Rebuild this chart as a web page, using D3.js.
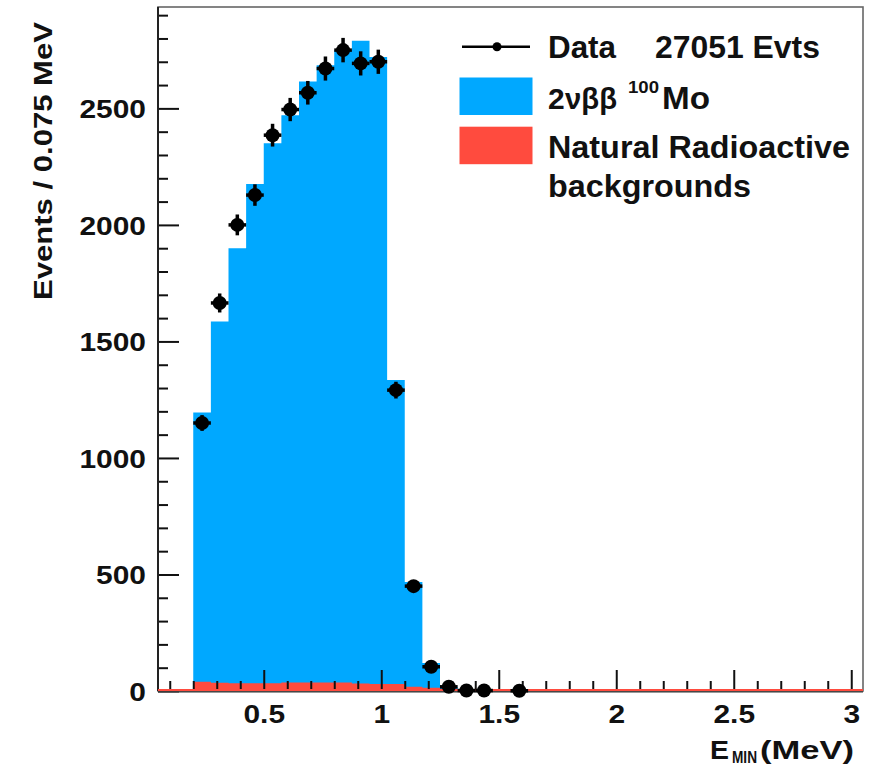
<!DOCTYPE html>
<html>
<head>
<meta charset="utf-8">
<script src="https://cdn.jsdelivr.net/npm/d3@7"></script>
<style>
body { margin: 0; background: #fff; }
text { font-family: "Liberation Sans", Arial, sans-serif; font-weight: bold; fill: #111; }
</style>
</head>
<body>
<svg id="chart"></svg>
<script>
var width = 880;
var height = 767;
var margin = {top: 7, right: 17, bottom: 76, left: 158};

// binning (0.075 MeV bins), first filled bin starts at 0.2 MeV
var binWidth = 0.075;
var binStart = 0.2;

// stacked MC: natural radioactive backgrounds (bottom) and 2nubb 100Mo (top)
var bgCounts    = [40, 35, 33, 33, 33, 36, 37, 37, 37, 32, 30, 30, 18, 14, 6];
var mo2nuCounts = [1155, 1550, 1867, 2142, 2317, 2434, 2578, 2648, 2713, 2758, 2690, 1305, 450, 106, 12];

// data, one value per bin from 0.2 MeV (null = empty bin)
var dataCounts = [1150, 1665, 2000, 2128, 2385, 2495, 2567, 2671, 2750, 2693, 2700, 1291, 450, 104, 18, 2, 2, null, 1];

var xDomain = [0.05, 3.05];
var yDomain = [0, 2935];
var xTicks = [0.5, 1, 1.5, 2, 2.5, 3];
var xTickLabels = ["0.5", "1", "1.5", "2", "2.5", "3"];
var yTicks = [0, 500, 1000, 1500, 2000, 2500];
var yTickLabels = ["0", "500", "1000", "1500", "2000", "2500"];

var colMo = "#00a8ff";
var colBg = "#ff4b3e";

var svg = d3.select("#chart")
    .attr("width", width)
    .attr("height", height);

var x = d3.scaleLinear().domain(xDomain).range([margin.left, width - margin.right]);
var y = d3.scaleLinear().domain(yDomain).range([height - margin.bottom, margin.top]);

// stack the MC
var bins = bgCounts.map((b, i) => ({lo: binStart + i * binWidth, bg: b, mo: mo2nuCounts[i]}));
// closing edge so the step area ends at the last bin's high edge
bins.push({lo: binStart + bgCounts.length * binWidth, bg: 0, mo: 0});
var stack = d3.stack().keys(["bg", "mo"])(bins);
var colours = {bg: colBg, mo: colMo};

var stepArea = d3.area()
    .curve(d3.curveStepAfter)
    .x(d => x(d.data.lo))
    .y0(y(0))
    .y1(d => y(d[1]));

let mc = svg.append("g");
// blue (full stack height) first, red over it
for (let layer of stack.slice().reverse()) {
    mc.append("path")
        .datum(layer)
        .attr("fill", colours[layer.key])
        .attr("d", stepArea);
}

// minor ticks
var xMinor = d3.range(1, 31).map(d => d / 10).filter(d => xTicks.indexOf(d) < 0);
var yMinor = d3.range(0, 2901, 100).filter(d => yTicks.indexOf(d) < 0);

svg.append("g")
    .attr("transform", "translate(0," + y(0) + ")")
    .call(d3.axisBottom(x).tickValues(xMinor).tickSize(-10).tickFormat(""))
    .call(g => g.select(".domain").remove())
    .selectAll("line").attr("stroke", "#111").attr("stroke-width", 2);

svg.append("g")
    .attr("transform", "translate(" + x.range()[0] + ",0)")
    .call(d3.axisLeft(y).tickValues(yMinor).tickSize(-10).tickFormat(""))
    .call(g => g.select(".domain").remove())
    .selectAll("line").attr("stroke", "#111").attr("stroke-width", 2);

// major ticks + labels
let xAxis = svg.append("g")
    .attr("transform", "translate(0," + y(0) + ")")
    .call(d3.axisBottom(x).tickValues(xTicks).tickSize(-21).tickPadding(14)
        .tickFormat((d, i) => xTickLabels[i]));
xAxis.select(".domain").remove();
xAxis.selectAll("line").attr("stroke", "#111").attr("stroke-width", 2);
xAxis.selectAll("text")
    .attr("font-size", 26)
    .attr("font-family", null)
    .attr("transform", "scale(1.15,1)");

let yAxis = svg.append("g")
    .attr("transform", "translate(" + x.range()[0] + ",0)")
    .call(d3.axisLeft(y).tickValues(yTicks).tickSize(-21).tickPadding(10.5)
        .tickFormat((d, i) => yTickLabels[i]));
yAxis.select(".domain").remove();
yAxis.selectAll("line").attr("stroke", "#111").attr("stroke-width", 2);
yAxis.selectAll("text")
    .attr("font-size", 26)
    .attr("font-family", null)
    .attr("dy", "0.35em")
    .attr("transform", "scale(1.15,1)");

// frame
svg.append("rect")
    .attr("x", x.range()[0]).attr("y", y.range()[1])
    .attr("width", x.range()[1] - x.range()[0])
    .attr("height", y.range()[0] - y.range()[1])
    .attr("fill", "none").attr("stroke", "#666").attr("stroke-width", 1.6);
svg.append("line")
    .attr("x1", x.range()[0]).attr("x2", x.range()[0])
    .attr("y1", y.range()[1]).attr("y2", y.range()[0])
    .attr("stroke", "#222").attr("stroke-width", 2);

// background histogram outline along zero
svg.append("line")
    .attr("x1", x(xDomain[0])).attr("x2", x(xDomain[1]))
    .attr("y1", y(0) - 1).attr("y2", y(0) - 1)
    .attr("stroke", colBg).attr("stroke-width", 2);
svg.append("line")
    .attr("x1", x(xDomain[0])).attr("x2", x(xDomain[1]))
    .attr("y1", y(0) + 0.8).attr("y2", y(0) + 0.8)
    .attr("stroke", "#333").attr("stroke-width", 1.2);

// data points with errors
var points = dataCounts
    .map((n, i) => ({c: binStart + (i + 0.5) * binWidth, n: n}))
    .filter(d => d.n !== null);

let pts = svg.append("g");
pts.selectAll(".ey")
    .data(points)
    .join("line")
    .attr("x1", d => x(d.c)).attr("x2", d => x(d.c))
    .attr("y1", d => y(d.n - Math.sqrt(d.n)))
    .attr("y2", d => y(d.n + Math.sqrt(d.n)))
    .attr("stroke", "#000").attr("stroke-width", 3.5);
pts.selectAll(".ex")
    .data(points)
    .join("line")
    .attr("x1", d => x(d.c - binWidth / 2))
    .attr("x2", d => x(d.c + binWidth / 2))
    .attr("y1", d => y(d.n)).attr("y2", d => y(d.n))
    .attr("stroke", "#000").attr("stroke-width", 3.5);
pts.selectAll("circle")
    .data(points)
    .join("circle")
    .attr("cx", d => x(d.c))
    .attr("cy", d => y(d.n))
    .attr("r", 7)
    .attr("fill", "#000");

// axis titles
svg.append("text")
    .attr("transform", "translate(52,22) rotate(-90)")
    .attr("text-anchor", "end")
    .attr("font-size", 26)
    .attr("textLength", 278)
    .attr("lengthAdjust", "spacingAndGlyphs")
    .text("Events / 0.075 MeV");

let xt = svg.append("g");
xt.append("text").attr("x", 710).attr("y", 759).attr("font-size", 26)
    .attr("textLength", 19).attr("lengthAdjust", "spacingAndGlyphs").text("E");
xt.append("text").attr("x", 732).attr("y", 763).attr("font-size", 16)
    .attr("textLength", 25).attr("lengthAdjust", "spacingAndGlyphs").text("MIN");
xt.append("text").attr("x", 760).attr("y", 759).attr("font-size", 26)
    .attr("textLength", 94).attr("lengthAdjust", "spacingAndGlyphs").text("(MeV)");

// legend
let legend = svg.append("g");
legend.append("line")
    .attr("x1", 462).attr("x2", 530).attr("y1", 46.7).attr("y2", 46.7)
    .attr("stroke", "#000").attr("stroke-width", 2.5);
legend.append("circle").attr("cx", 497).attr("cy", 46.7).attr("r", 4.5).attr("fill", "#000");
legend.append("text").attr("x", 548).attr("y", 58).attr("font-size", 31)
    .attr("textLength", 68).attr("lengthAdjust", "spacingAndGlyphs").text("Data");
legend.append("text").attr("x", 655).attr("y", 58).attr("font-size", 31)
    .attr("textLength", 165).attr("lengthAdjust", "spacingAndGlyphs").text("27051 Evts");

legend.append("rect").attr("x", 459.5).attr("y", 77.5).attr("width", 73).attr("height", 37.5).attr("fill", colMo);
legend.append("text").attr("x", 548).attr("y", 109).attr("font-size", 30).text("2");
legend.append("text").attr("x", 565).attr("y", 109).attr("font-size", 29)
    .attr("font-weight", "normal")
    .attr("font-family", "'DejaVu Serif', 'Liberation Serif', serif")
    .attr("textLength", 52).attr("lengthAdjust", "spacingAndGlyphs")
    .text("νββ");
legend.append("text").attr("x", 628).attr("y", 93).attr("font-size", 17)
    .attr("textLength", 31).attr("lengthAdjust", "spacingAndGlyphs").text("100");
legend.append("text").attr("x", 662).attr("y", 109).attr("font-size", 31)
    .attr("textLength", 48).attr("lengthAdjust", "spacingAndGlyphs").text("Mo");

legend.append("rect").attr("x", 459.5).attr("y", 126.7).attr("width", 73).attr("height", 37.5).attr("fill", colBg);
legend.append("text").attr("x", 548).attr("y", 158).attr("font-size", 31)
    .attr("textLength", 302).attr("lengthAdjust", "spacingAndGlyphs").text("Natural Radioactive");
legend.append("text").attr("x", 548).attr("y", 197).attr("font-size", 31)
    .attr("textLength", 203).attr("lengthAdjust", "spacingAndGlyphs").text("backgrounds");
</script>
</body>
</html>
